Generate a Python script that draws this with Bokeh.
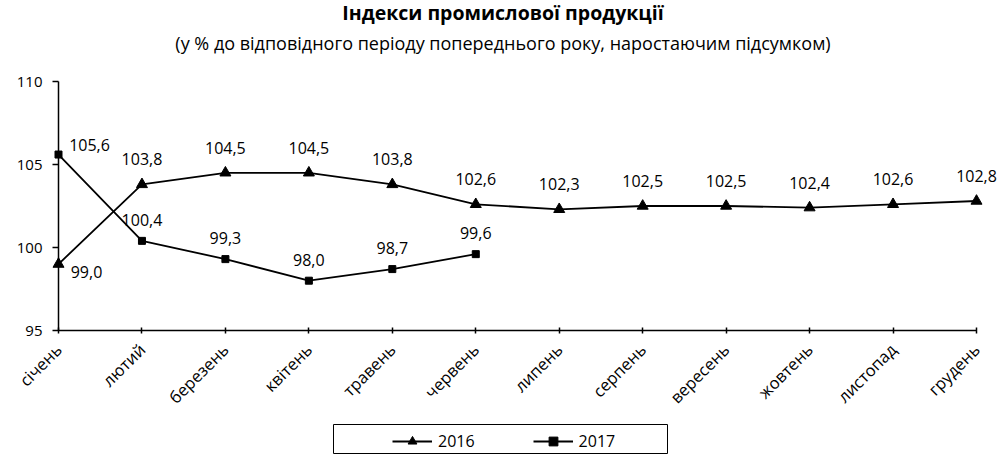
import math
from bokeh.plotting import figure
from bokeh.models import (Range1d, FixedTicker, Legend, LegendItem, Label,
                          ColumnDataSource, LabelSet, BoxAnnotation)
from bokeh.core.properties import value
from bokeh.embed import file_html
from bokeh.resources import INLINE

# ---- data ----
months = ["січень", "лютий", "березень", "квітень", "травень", "червень",
          "липень", "серпень", "вересень", "жовтень", "листопад", "грудень"]
idx_2016 = [99.0, 103.8, 104.5, 104.5, 103.8, 102.6, 102.3, 102.5, 102.5, 102.4, 102.6, 102.8]
idx_2017 = [105.6, 100.4, 99.3, 98.0, 98.7, 99.6]
years = ["2016", "2017"]
y_ticks = [95, 100, 105, 110]
title_text = "Індекси промислової продукції"
subtitle_text = "(у % до відповідного періоду попереднього року, наростаючим підсумком)"

# ---- layout / styles (pixels) ----
FONT = "Open Sans"
W, H = 1003, 459
X_FIRST_PX, X_LAST_PX = 58, 976      # first / last category tick
Y_LOW_PX, Y_HIGH_PX = 330, 81        # lowest / highest y tick

ux = (X_LAST_PX - X_FIRST_PX) / (len(months) - 1)
uy = (Y_LOW_PX - Y_HIGH_PX) / (y_ticks[-1] - y_ticks[0])


def fmt(v):
    return f"{v:.1f}".replace(".", ",")


def make_source(vals, first_off, other_dy):
    n = len(vals)
    xo = [first_off[0]] + [0] * (n - 1)
    yo = [first_off[1]] + [other_dy] * (n - 1)
    return ColumnDataSource(dict(x=list(range(n)), y=vals, lbl=[fmt(v) for v in vals],
                                 xo=xo, yo=yo))


src16 = make_source(idx_2016, (28, -8), 25)
src17 = make_source(idx_2017, (31, 10), 21)

p = figure(width=W, height=H, output_backend="svg", toolbar_location=None, title=None,
           x_range=Range1d(-X_FIRST_PX / ux, (len(months) - 1) + (W - X_LAST_PX) / ux),
           y_range=Range1d(y_ticks[0] - (H - Y_LOW_PX) / uy, y_ticks[-1] + Y_HIGH_PX / uy),
           min_border=0, min_border_left=0, min_border_right=0,
           min_border_top=0, min_border_bottom=0,
           background_fill_color="white", border_fill_color="white")
p.grid.visible = False
p.outline_line_color = None

# titles
p.add_layout(Label(x=502.5, y=H - 12, x_units="screen", y_units="screen", text=title_text,
                   text_align="center", text_baseline="alphabetic",
                   text_font=FONT, text_font_size="19.5px", text_font_style="bold",
                   text_color="black"))
p.add_layout(Label(x=502.5, y=H - 42, x_units="screen", y_units="screen", text=subtitle_text,
                   text_align="center", text_baseline="alphabetic",
                   text_font=FONT, text_font_size="18px", text_color="black"))


def draw_series(src, marker, size):
    ln = p.line("x", "y", source=src, line_color="black", line_width=1.8)
    mk = p.scatter("x", "y", source=src, marker=marker, size=size, color="black")
    return [ln, mk]


r16 = draw_series(src16, "triangle", 11)
r17 = draw_series(src17, "square", 7)

for src in (src16, src17):
    p.add_layout(LabelSet(x="x", y="y", text="lbl", source=src, x_offset="xo", y_offset="yo",
                          text_align="center", text_baseline="middle",
                          text_font=value(FONT), text_font_size=value("16px"),
                          text_color="black"))

# axes
xa = p.xaxis[0]
xa.fixed_location = y_ticks[0]
xa.ticker = FixedTicker(ticks=list(range(len(months))))
xa.major_label_overrides = {i: m for i, m in enumerate(months)}
xa.major_label_orientation = math.pi / 4
xa.bounds = (0, len(months) - 1)
xa.major_label_text_font = FONT
xa.major_label_text_font_size = "16.5px"
xa.major_label_text_color = "black"
xa.major_label_standoff = 13
xa.major_tick_in = 3
xa.major_tick_out = 3
xa.minor_tick_line_color = None
xa.axis_line_width = 1.5
xa.major_tick_line_width = 1.5

ya = p.yaxis[0]
ya.fixed_location = 0
ya.ticker = FixedTicker(ticks=y_ticks)
ya.bounds = (y_ticks[0], y_ticks[-1])
ya.major_label_text_font = FONT
ya.major_label_text_font_size = "15px"
ya.major_label_text_color = "black"
ya.major_label_standoff = 10
ya.major_tick_in = 0
ya.major_tick_out = 6
ya.minor_tick_line_color = None
ya.axis_line_width = 1.5
ya.major_tick_line_width = 1.5

# legend frame + legend
p.add_layout(BoxAnnotation(left=333, right=667, bottom=H - 453, top=H - 424,
                           left_units="screen", right_units="screen",
                           top_units="screen", bottom_units="screen",
                           fill_alpha=0, line_color="black", line_width=1, line_alpha=1))
legend = Legend(items=[LegendItem(label=years[0], renderers=r16),
                       LegendItem(label=years[1], renderers=r17)],
                orientation="horizontal", location=(392, H - 452),
                glyph_width=40, glyph_height=22, label_height=22,
                label_standoff=6, spacing=58, padding=0, margin=0,
                label_text_font=FONT, label_text_font_size="16px", label_text_color="black",
                border_line_color=None, background_fill_alpha=0)
p.add_layout(legend, "center")

open("out.html", "w").write(file_html(p, INLINE))
